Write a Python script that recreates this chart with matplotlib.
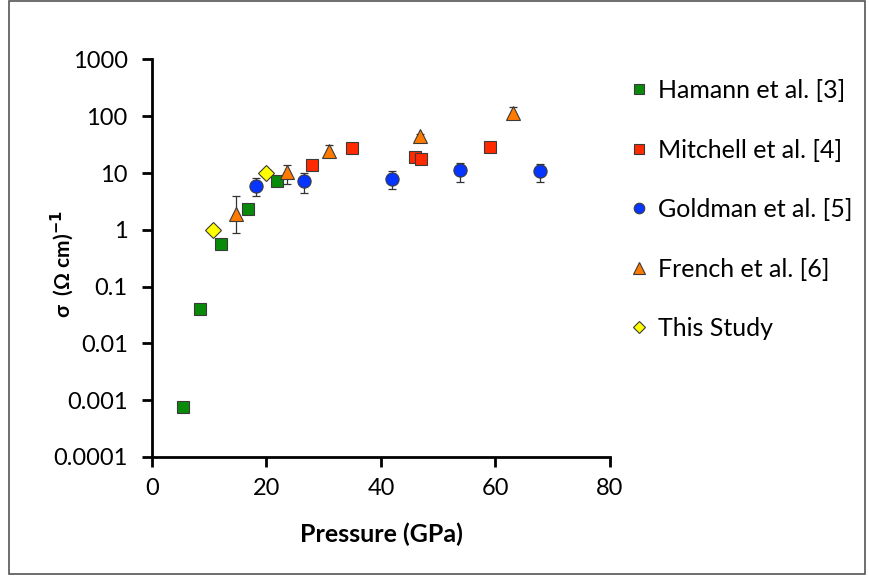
#!/usr/bin/env python3
"""Electrical conductivity vs pressure, log scale, several literature sets."""

import matplotlib

matplotlib.use("Agg")
import matplotlib.pyplot as plt
from matplotlib.patches import Rectangle

# Hamann et al. [3]
ham_p = [5.4, 8.3, 12.1, 16.7, 21.9]
ham_s = [0.00075, 0.04, 0.56, 2.3, 7.1]

# Mitchell et al. [4]
mit_p = [27.9, 35.0, 45.9, 47.0, 59.0]
mit_s = [14.0, 27.5, 19.0, 18.0, 28.5]

# Goldman et al. [5]
gol_p = [18.2, 26.5, 42.0, 53.8, 67.8]
gol_s = [6.0, 7.1, 7.7, 11.1, 11.0]
gol_lo = [4.0, 4.4, 5.3, 6.9, 7.0]
gol_hi = [8.2, 10.0, 10.8, 15.3, 14.5]

# French et al. [6]
fre_p = [14.7, 23.5, 30.9, 46.8, 63.0]
fre_s = [1.9, 10.3, 24.0, 44.5, 116.0]
fre_lo = [0.89, 6.3, 19.0, 40.0, 100.0]
fre_hi = [4.0, 13.7, 31.0, 48.0, 148.0]

# This study
this_p = [10.6, 20.0]
this_s = [1.0, 10.0]

plt.rcParams["font.family"] = ["Lato", "DejaVu Sans"]

fig = plt.figure(figsize=(8.7, 5.77), dpi=100)
ax = fig.add_axes([0.1747, 0.208, 0.5264, 0.689])

ecol = "#333333"
err_kw = dict(fmt="none", ecolor=ecol, elinewidth=0.9, capsize=3, capthick=0.9, zorder=2)

ax.errorbar(gol_p, gol_s, yerr=[[s - l for s, l in zip(gol_s, gol_lo)],
                                [h - s for s, h in zip(gol_s, gol_hi)]], **err_kw)
ax.errorbar(fre_p, fre_s, yerr=[[s - l for s, l in zip(fre_s, fre_lo)],
                                [h - s for s, h in zip(fre_s, fre_hi)]], **err_kw)

mk = dict(linestyle="none", markeredgecolor="#3a3a3a", markeredgewidth=0.8, zorder=3)
h1, = ax.plot(ham_p, ham_s, "s", color="#0a8a0a", markersize=9, label="Hamann et al. [3]", **mk)
h2, = ax.plot(mit_p, mit_s, "s", color="#ff2a00", markersize=9, label="Mitchell et al. [4]", **mk)
h3, = ax.plot(gol_p, gol_s, "o", color="#0535ff", markersize=9.5, label="Goldman et al. [5]", **mk)
h4, = ax.plot(fre_p, fre_s, "^", color="#ff7a00", markersize=10, label="French et al. [6]", **mk)
h5, = ax.plot(this_p, this_s, "D", color="#ffff00", markersize=8, label="This Study", **mk)

ax.set_yscale("log")
ax.set_ylim(0.0001, 1000)
ax.set_xlim(0, 80)
ax.set_xticks([0, 20, 40, 60, 80])
ax.set_yticks([0.0001, 0.001, 0.01, 0.1, 1, 10, 100, 1000])
ax.set_yticklabels(["0.0001", "0.001", "0.01", "0.1", "1", "10", "100", "1000"])
ax.minorticks_off()

for s in ["top", "right"]:
    ax.spines[s].set_visible(False)
for s in ["left", "bottom"]:
    ax.spines[s].set_linewidth(2)
ax.tick_params(axis="both", direction="out", length=7, width=2, labelsize=17)
ax.tick_params(axis="y", pad=10.5)
ax.tick_params(axis="x", pad=8)

ax.set_xlabel("Pressure (GPa)", fontsize=18, fontweight="bold", labelpad=17)
ax.set_ylabel(r"σ  (Ω cm)$^{\mathbf{-1}}$", fontsize=15, fontweight="bold")
ax.yaxis.set_label_coords(-0.166, 0.484)

leg = fig.legend(handles=[h1, h2, h3, h4, h5], loc="upper left",
                 bbox_to_anchor=(0.7, 0.902), frameon=False, fontsize=18,
                 labelspacing=1.46, handlelength=0.6, handletextpad=0.45,
                 markerscale=0.8)

# thin frame around the whole picture
fig.patches.append(Rectangle((0.0105, 0.005), 0.984, 0.994, transform=fig.transFigure,
                             fill=False, edgecolor="#555555", linewidth=1.2))

fig.savefig("out.png", dpi=100)
plt.close(fig)
